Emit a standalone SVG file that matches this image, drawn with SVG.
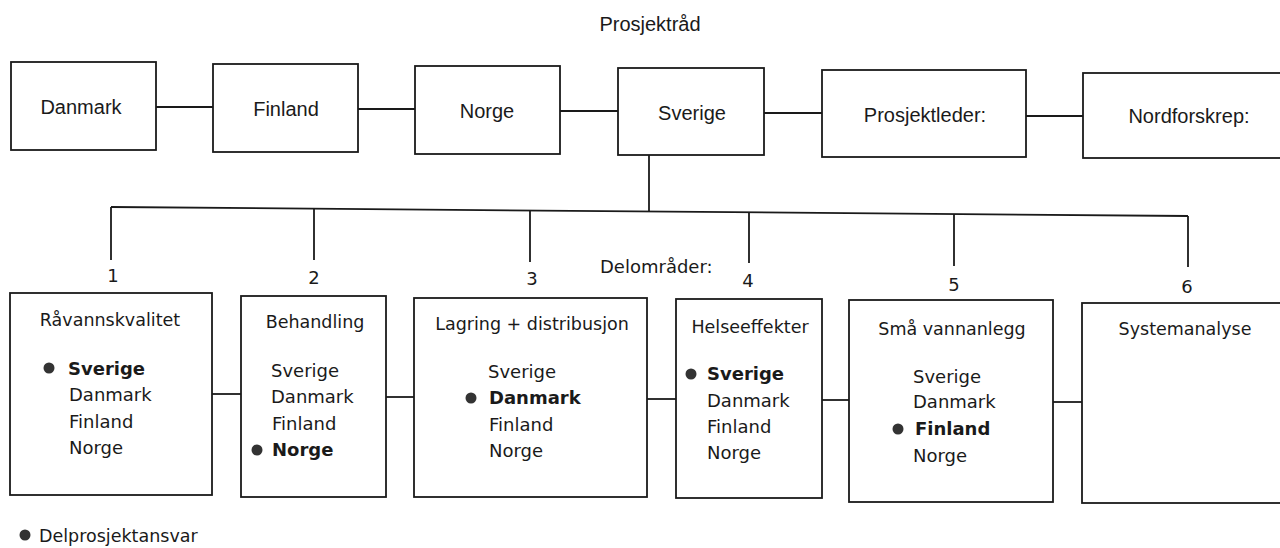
<svg xmlns="http://www.w3.org/2000/svg" width="1280" height="548" viewBox="0 0 1280 548">
<style>
.box{fill:#fff;stroke:#1a1a1a;stroke-width:1.8}
.ln{fill:none;stroke:#1a1a1a;stroke-width:1.8}
.top{font-family:"Liberation Sans",Arial,sans-serif;font-size:20px;fill:#1a1a1a;text-anchor:middle;dominant-baseline:central}
.t{font-family:"DejaVu Sans",sans-serif;font-size:17.5px;fill:#1a1a1a;text-anchor:middle}
.l{font-family:"DejaVu Sans",sans-serif;font-size:18px;fill:#1a1a1a}
.b{font-weight:bold}
.n{font-family:"DejaVu Sans",sans-serif;font-size:18px;fill:#1a1a1a;text-anchor:middle}
.dot{fill:#333}
</style>
<rect width="1280" height="548" fill="#fff"/>
<text class="top" x="650" y="24">Prosjektråd</text>
<g id="connectors">
<line class="ln" x1="156" y1="107" x2="213" y2="107"/>
<line class="ln" x1="358" y1="109" x2="415" y2="109"/>
<line class="ln" x1="560" y1="111" x2="618" y2="111"/>
<line class="ln" x1="764" y1="113" x2="822" y2="113"/>
<line class="ln" x1="1026" y1="116" x2="1083" y2="116"/>
<line class="ln" x1="649" y1="155" x2="649" y2="212"/>
<line class="ln" x1="111" y1="207" x2="1188" y2="216"/>
<line class="ln" x1="111" y1="207" x2="111" y2="260"/>
<line class="ln" x1="314" y1="209" x2="314" y2="260"/>
<line class="ln" x1="530" y1="211" x2="530" y2="262"/>
<line class="ln" x1="749" y1="213" x2="749" y2="263"/>
<line class="ln" x1="954" y1="214" x2="954" y2="266"/>
<line class="ln" x1="1188" y1="216" x2="1188" y2="267"/>
<line class="ln" x1="212" y1="394" x2="241" y2="394"/>
<line class="ln" x1="386" y1="397" x2="414" y2="397"/>
<line class="ln" x1="647" y1="399" x2="676" y2="399"/>
<line class="ln" x1="822" y1="400" x2="851" y2="400"/>
<line class="ln" x1="1053" y1="402" x2="1082" y2="402"/>
</g>
<g id="danmark"><rect class="box" x="11" y="62" width="145" height="88"/><text class="top" x="81" y="107">Danmark</text></g>
<g id="finland"><rect class="box" x="213" y="64" width="145" height="88"/><text class="top" x="286" y="109">Finland</text></g>
<g id="norge"><rect class="box" x="415" y="66" width="145" height="88"/><text class="top" x="487" y="111">Norge</text></g>
<g id="sverige"><rect class="box" x="618" y="68" width="146" height="87"/><text class="top" x="692" y="113">Sverige</text></g>
<g id="prosjektleder"><rect class="box" x="822" y="70" width="204" height="87"/><text class="top" x="925" y="115">Prosjektleder:</text></g>
<g id="nordforskrep"><rect class="box" x="1083" y="73" width="210" height="85"/><text class="top" x="1189" y="116">Nordforskrep:</text></g>
<text class="l" x="600" y="273">Delområder:</text>
<g id="nums">
<text class="n" x="113" y="282">1</text>
<text class="n" x="314" y="284">2</text>
<text class="n" x="532" y="285">3</text>
<text class="n" x="748" y="287">4</text>
<text class="n" x="954" y="291">5</text>
<text class="n" x="1187" y="293">6</text>
</g>
<g id="d1"><rect class="box" x="10" y="293" width="202" height="202"/>
<text class="t" x="110" y="326">Råvannskvalitet</text>
<circle class="dot" cx="49" cy="368" r="5.5"/>
<text class="l b" x="68" y="375">Sverige</text>
<text class="l" x="69" y="401">Danmark</text>
<text class="l" x="69" y="428">Finland</text>
<text class="l" x="69" y="454">Norge</text></g>
<g id="d2"><rect class="box" x="241" y="296" width="145" height="201"/>
<text class="t" x="315" y="328">Behandling</text>
<text class="l" x="271" y="377">Sverige</text>
<text class="l" x="271" y="403">Danmark</text>
<text class="l" x="272" y="430">Finland</text>
<circle class="dot" cx="257" cy="450" r="5.5"/>
<text class="l b" x="272" y="456">Norge</text></g>
<g id="d3"><rect class="box" x="414" y="298" width="233" height="199"/>
<text class="t" x="532" y="330">Lagring + distribusjon</text>
<text class="l" x="488" y="378">Sverige</text>
<circle class="dot" cx="471" cy="398" r="5.5"/>
<text class="l b" x="489" y="404">Danmark</text>
<text class="l" x="489" y="431">Finland</text>
<text class="l" x="489" y="457">Norge</text></g>
<g id="d4"><rect class="box" x="676" y="299" width="146" height="199"/>
<text class="t" x="750" y="333">Helseeffekter</text>
<circle class="dot" cx="691" cy="374" r="5.5"/>
<text class="l b" x="707" y="380">Sverige</text>
<text class="l" x="707" y="407">Danmark</text>
<text class="l" x="707" y="433">Finland</text>
<text class="l" x="707" y="459">Norge</text></g>
<g id="d5"><rect class="box" x="849" y="300" width="204" height="202"/>
<text class="t" x="952" y="335">Små vannanlegg</text>
<text class="l" x="913" y="383">Sverige</text>
<text class="l" x="913" y="408">Danmark</text>
<circle class="dot" cx="898" cy="429" r="5.5"/>
<text class="l b" x="915" y="435">Finland</text>
<text class="l" x="913" y="462">Norge</text></g>
<g id="d6"><rect class="box" x="1082" y="303" width="210" height="200"/>
<text class="t" x="1185" y="335">Systemanalyse</text></g>
<g id="legend"><circle class="dot" cx="25" cy="535" r="5.5"/>
<text class="l" x="39" y="542" style="font-size:17.5px">Delprosjektansvar</text></g>
</svg>
